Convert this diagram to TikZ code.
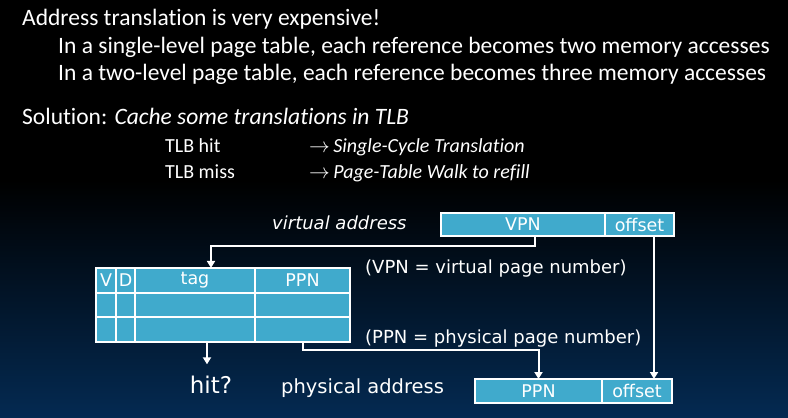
\documentclass[tikz,border=0pt]{standalone}
\usepackage{fontspec}
\setmainfont{Carlito}[RawFeature={-liga;-clig;-dlig;-calt}]
\newfontfamily\vfont{DejaVu Sans}
\usetikzlibrary{arrows.meta,positioning,calc}
\definecolor{cellblue}{RGB}{64,170,204}
\definecolor{bgblue}{RGB}{4,42,82}

\begin{document}
\begin{tikzpicture}[x=1pt,y=-1pt,
  cell/.style={draw=white, line width=2.2pt, fill=cellblue, text=white, inner sep=0pt, outer sep=0pt, font=\vfont\fontsize{17.5}{17.5}\selectfont},
  conn/.style={white, line width=2pt, -{Triangle[width=8pt,length=7pt]}},
  txt/.style={text=white, inner sep=0pt, anchor=base west},
  head/.style={txt, font=\fontsize{23.5}{23.5}\selectfont},
  sub/.style={txt, font=\fontsize{20}{20}\selectfont},
  lab/.style={txt, font=\vfont\fontsize{18}{18}\selectfont}]

  % background
  \fill[black] (0,0) rectangle (788,180);
  \shade[top color=black, bottom color=bgblue] (0,180) rectangle (788,418);
  \useasboundingbox (0,0) rectangle (788,418);

  %header text
  \node[head] (l1) at (22,25) {Address translation is very expensive!};
  \node[head] (l2) at (58,53) {In a single-level page table, each reference becomes two memory accesses};
  \node[head] (l3) at (58,80) {In a two-level page table, each reference becomes three memory accesses};
  \node[head] (sol) at (22,124) {Solution: \textit{Cache some translations in TLB}};

  \foreach \y/\what/\res/\name in {152/TLB hit/Single-Cycle Translation/hit, 178/TLB miss/Page-Table Walk to refill/miss}{
    \node[sub] (\name) at (165,\y) {\what};
    \node[sub] (\name-r) at (309,\y) {$\rightarrow$\,\textit{\res}};
  }

  %virtual address
  \node[lab, font=\vfont\fontsize{18}{18}\selectfont\itshape] (va) at (272,229) {virtual address};
  \node[cell, minimum width=164, minimum height=23] (vpn) at (523,224.5) {VPN};
  \node[cell, minimum width=69, minimum height=23] (voff) at (639.5,224.5) {offset};

  %tlb table
  \foreach \c/\xa/\xb/\lbl in {1/96/116/V, 2/116/135/D, 3/135/255/tag, 4/255/350/PPN}{
    \node[cell, minimum width=\xb-\xa, minimum height=24.7] (tb-1-\c) at ({(\xa+\xb)/2},280.3) {\lbl};
  }
  \foreach \r/\ym in {2/305, 3/329.7}{
    \foreach \c/\xa/\xb in {1/96/116, 2/116/135, 3/135/255, 4/255/350}{
      \node[cell, minimum width=\xb-\xa, minimum height=24.7] (tb-\r-\c) at ({(\xa+\xb)/2},\ym) {};
    }
  }

  \node[lab] (vnote) at (365,273) {(VPN = virtual page number)};
  \node[lab] (pnote) at (365,343) {(PPN = physical page number)};

  %physical address
  \node[txt, font=\vfont\fontsize{23}{23}\selectfont, anchor=base] (hitq) at (211,393) {hit?};
  \node[lab, font=\vfont\fontsize{19.5}{19.5}\selectfont] (pa) at (281,393) {physical address};
  \node[cell, minimum width=127, minimum height=24] (pppn) at (538.5,391) {PPN};
  \node[cell, minimum width=70, minimum height=24] (poff) at (637,391) {offset};

  %connectors
  \draw[conn] ([xshift=12pt]vpn.south) -- ++(0,10) -| ([xshift=16pt]tb-1-3.north);
  \draw[conn] ([xshift=-4pt]tb-3-3.south -| hitq.north) -- ([xshift=-4pt,yshift=11pt]hitq.north);
  \draw[conn] (tb-3-4.south) -- ++(0,8) -| (pppn.north);
  \draw[conn] ([xshift=14.5pt]voff.south) -- ([xshift=14.5pt]voff.south |- poff.north);

\end{tikzpicture}
\end{document}
